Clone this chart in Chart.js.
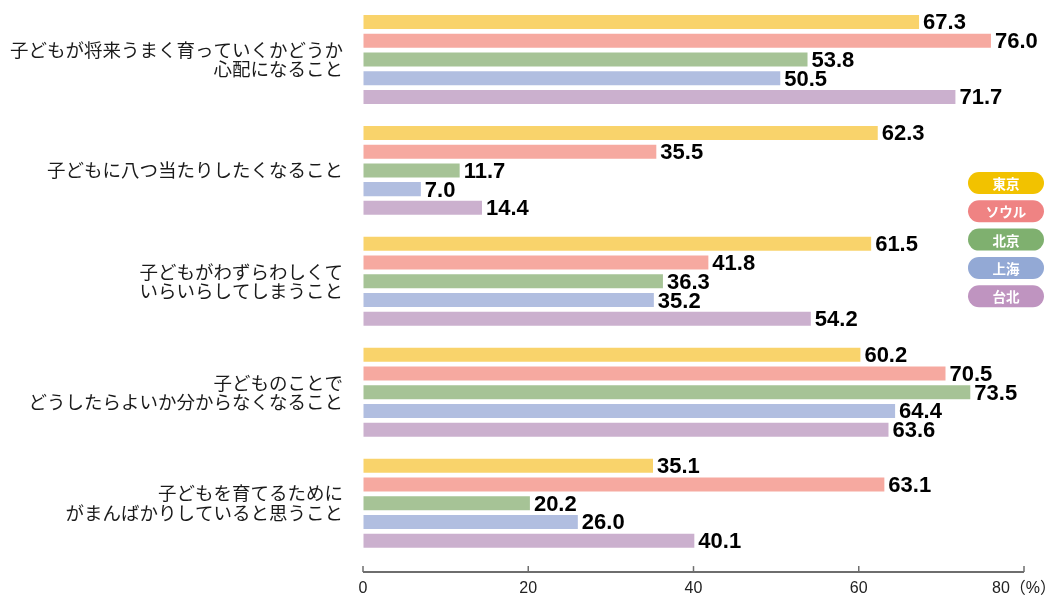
<!DOCTYPE html>
<html>
<head>
<meta charset="utf-8">
<script src="https://cdn.jsdelivr.net/npm/chart.js@4/dist/chart.umd.min.js"></script>
<style>
  html, body { margin: 0; padding: 0; background: #fff; }
  #wrap { width: 1054px; height: 597px; }
</style>
</head>
<body>
<div id="wrap"><canvas id="stage"></canvas></div>
<script>
// 項目（複数行ラベル）
var categories = [
  ['子どもが将来うまく育っていくかどうか', '心配になること'],
  ['子どもに八つ当たりしたくなること'],
  ['子どもがわずらわしくて', 'いらいらしてしまうこと'],
  ['子どものことで', 'どうしたらよいか分からなくなること'],
  ['子どもを育てるために', 'がまんばかりしていると思うこと']
];

// 都市名
var cities = ['東京', 'ソウル', '北京', '上海', '台北'];

// 各都市の値（%）
var tokyo    = [67.3, 62.3, 61.5, 60.2, 35.1];
var seoul    = [76.0, 35.5, 41.8, 70.5, 63.1];
var beijing  = [53.8, 11.7, 36.3, 73.5, 20.2];
var shanghai = [50.5,  7.0, 35.2, 64.4, 26.0];
var taipei   = [71.7, 14.4, 54.2, 63.6, 40.1];

var xTicks = [0, 20, 40, 60, 80];

var barColors    = ['#F9D36B', '#F6A9A0', '#A6C396', '#B1BEE0', '#CBB0CE'];
var legendColors = ['#F2C200', '#EF8383', '#7FB06F', '#93A9D5', '#BF94C0'];

var series = [tokyo, seoul, beijing, shanghai, taipei];

var mydata = {
  labels: categories,
  datasets: series.map(function(vals, i) {
    return {
      label: cities[i],
      data: vals,
      backgroundColor: barColors[i],
      borderWidth: 0,
      categoryPercentage: 0.845,
      barPercentage: 0.747
    };
  })
};

// 棒の右に数値を描く
var valueLabels = {
  id: 'valueLabels',
  afterDatasetsDraw: function(chart) {
    var ctx = chart.ctx;
    ctx.save();
    ctx.font = 'bold 22px "Liberation Sans", Arial, sans-serif';
    ctx.fillStyle = '#000';
    ctx.textAlign = 'left';
    ctx.textBaseline = 'alphabetic';
    chart.data.datasets.forEach(function(ds, di) {
      chart.getDatasetMeta(di).data.forEach(function(bar, j) {
        ctx.fillText(ds.data[j].toFixed(1), bar.x + 4, bar.y + 7.5);
      });
    });
    ctx.restore();
  }
};

// 下の軸線と目盛り（上向き）
var bottomAxis = {
  id: 'bottomAxis',
  afterDraw: function(chart) {
    var ctx = chart.ctx;
    var xs = chart.scales.x;
    var y = chart.chartArea.bottom + 13.5;
    ctx.save();
    ctx.strokeStyle = '#6e6e6e';
    ctx.lineWidth = 2;
    ctx.beginPath();
    ctx.moveTo(xs.getPixelForValue(0), y);
    ctx.lineTo(xs.getPixelForValue(80), y);
    ctx.stroke();
    ctx.lineWidth = 1.5;
    xTicks.forEach(function(v) {
      var px = xs.getPixelForValue(v);
      ctx.beginPath();
      ctx.moveTo(px, y);
      ctx.lineTo(px, y - 6);
      ctx.stroke();
    });
    ctx.restore();
  }
};

// 右側の凡例（角丸ラベル）
var pillLegend = {
  id: 'pillLegend',
  afterDraw: function(chart) {
    var ctx = chart.ctx;
    var left = 968, w = 76, h = 22, top = 172, step = 28.3;
    ctx.save();
    ctx.font = 'bold 13.5px "Noto Sans CJK JP", sans-serif';
    ctx.textAlign = 'center';
    ctx.textBaseline = 'middle';
    cities.forEach(function(name, i) {
      var t = top + i * step;
      ctx.fillStyle = legendColors[i];
      ctx.beginPath();
      ctx.roundRect(left, t, w, h, h / 2);
      ctx.fill();
      ctx.fillStyle = '#fff';
      ctx.fillText(name, left + w / 2, t + h / 2 + 1);
    });
    ctx.restore();
  }
};

// 目盛り線は見せずに、ラベルの間隔だけ取る
var hiddenGrid = {
  display: true,
  drawOnChartArea: false,
  drawTicks: true,
  tickLength: 20,
  color: 'rgba(0,0,0,0)'
};

var canvas = document.getElementById('stage');
var chart = new Chart(canvas, {
  type: 'bar',
  data: mydata,
  plugins: [valueLabels, bottomAxis, pillLegend],
  options: {
    indexAxis: 'y',
    responsive: true,
    maintainAspectRatio: false,
    animation: false,
    layout: { padding: { top: 4, right: 30, left: 0, bottom: 0 } },
    plugins: {
      legend: { display: false },
      tooltip: { enabled: false }
    },
    scales: {
      x: {
        min: 0,
        max: 80,
        grid: hiddenGrid,
        border: { display: false },
        afterFit: function(scale) {
          scale.height = 38.4;
          scale.paddingLeft = 0;
          scale.paddingRight = 0;
        },
        afterBuildTicks: function(scale) {
          scale.ticks = xTicks.map(function(v) { return { value: v }; });
        },
        ticks: {
          padding: 0,
          maxRotation: 0,
          color: '#222',
          font: { family: '"Liberation Sans", "Noto Sans CJK JP", sans-serif', size: 16 },
          callback: function(v) { return v === 80 ? '80（%）' : String(v); }
        }
      },
      y: {
        grid: hiddenGrid,
        border: { display: false },
        afterFit: function(scale) {
          scale.width = 363;
          scale.paddingTop = 0;
          scale.paddingBottom = 0;
        },
        ticks: {
          padding: 0,
          color: '#1a1a1a',
          font: { family: '"Noto Sans CJK JP", sans-serif', size: 18.5, lineHeight: 1.05 }
        }
      }
    }
  }
});
</script>
</body>
</html>
